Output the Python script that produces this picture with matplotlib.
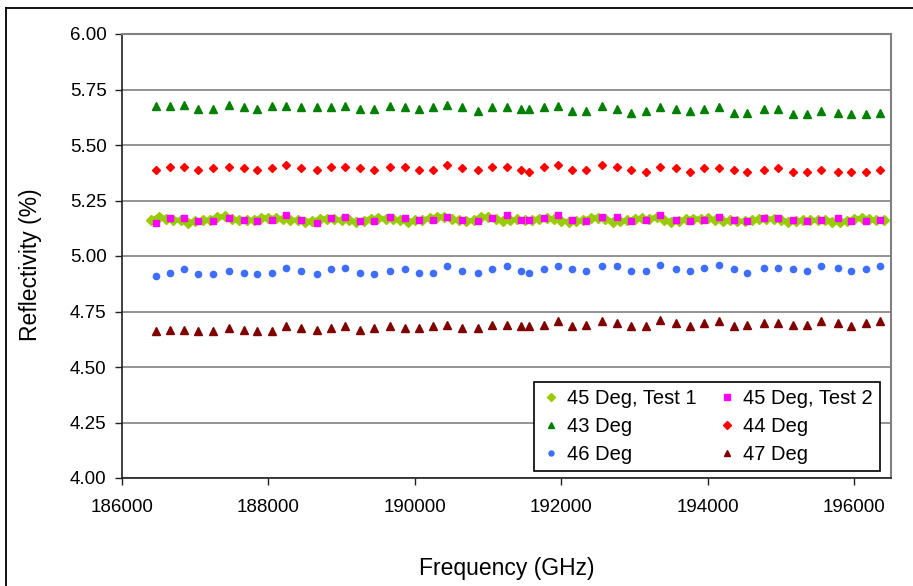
import numpy as np
import matplotlib
matplotlib.use("Agg")
import matplotlib.pyplot as plt
from matplotlib.lines import Line2D
from matplotlib.ticker import FormatStrFormatter

# Frequencies of the discrete channels (GHz)
freq = [186460, 186660, 186850, 187040, 187240, 187460, 187660, 187850, 188050, 188240,
        188440, 188660, 188850, 189050, 189250, 189440, 189660, 189860, 190060, 190250,
        190440, 190640, 190860, 191050, 191250, 191450, 191560, 191760, 191950, 192150,
        192340, 192560, 192760, 192950, 193150, 193350, 193560, 193760, 193950, 194150,
        194350, 194540, 194760, 194960, 195160, 195350, 195550, 195770, 195960, 196160,
        196350]

# Continuous sweep for the first 45 deg test (100 GHz step)
sweep_freq = np.arange(186400, 196401, 100)
test1 = [5.160, 5.177, 5.168, 5.162, 5.160, 5.150, 5.157, 5.160, 5.162, 5.175,
         5.178, 5.165, 5.160, 5.160, 5.162, 5.172, 5.172, 5.170, 5.168, 5.163,
         5.160, 5.155, 5.157, 5.165, 5.168, 5.165,
         5.162, 5.160, 5.154, 5.159, 5.167, 5.172, 5.165, 5.165, 5.160, 5.155,
         5.160, 5.162, 5.170, 5.177, 5.175, 5.166, 5.160, 5.158, 5.160, 5.177,
         5.175, 5.167, 5.158, 5.160, 5.165,
         5.162, 5.162, 5.168, 5.170, 5.165, 5.158, 5.155, 5.156, 5.160, 5.172,
         5.173, 5.165, 5.154, 5.157, 5.160, 5.168, 5.170, 5.167, 5.175, 5.160,
         5.155, 5.158, 5.165, 5.168, 5.166,
         5.170, 5.162, 5.158, 5.160, 5.157, 5.156, 5.162, 5.166, 5.167, 5.166,
         5.164, 5.152, 5.156, 5.162, 5.162, 5.160, 5.164, 5.155, 5.154, 5.158,
         5.168, 5.170, 5.165, 5.160, 5.162]

test2 = [5.150, 5.170, 5.170, 5.156, 5.156, 5.170, 5.162, 5.156, 5.162, 5.185,
         5.162, 5.150, 5.170, 5.177, 5.156, 5.156, 5.177, 5.170, 5.162, 5.162,
         5.177, 5.162, 5.156, 5.170, 5.185, 5.162, 5.162, 5.170, 5.185, 5.162,
         5.156, 5.177, 5.177, 5.156, 5.162, 5.185, 5.162, 5.156, 5.162, 5.177,
         5.162, 5.156, 5.170, 5.170, 5.162, 5.156, 5.162, 5.170, 5.156, 5.156,
         5.162]

deg43 = [5.676, 5.676, 5.682, 5.661, 5.661, 5.682, 5.670, 5.661, 5.676, 5.676,
         5.670, 5.670, 5.670, 5.676, 5.661, 5.661, 5.676, 5.670, 5.661, 5.670,
         5.682, 5.670, 5.653, 5.670, 5.673, 5.661, 5.661, 5.670, 5.676, 5.655,
         5.655, 5.676, 5.661, 5.646, 5.655, 5.670, 5.661, 5.655, 5.661, 5.670,
         5.646, 5.646, 5.661, 5.661, 5.640, 5.640, 5.655, 5.646, 5.640, 5.640,
         5.646]

deg44 = [5.387, 5.402, 5.402, 5.387, 5.395, 5.402, 5.395, 5.387, 5.395, 5.410,
         5.395, 5.387, 5.402, 5.402, 5.395, 5.387, 5.402, 5.402, 5.387, 5.387,
         5.410, 5.395, 5.387, 5.402, 5.399, 5.387, 5.380, 5.402, 5.410, 5.387,
         5.387, 5.410, 5.402, 5.387, 5.380, 5.402, 5.395, 5.380, 5.395, 5.395,
         5.387, 5.380, 5.387, 5.395, 5.380, 5.380, 5.387, 5.380, 5.380, 5.380,
         5.387]

deg46 = [4.910, 4.925, 4.940, 4.917, 4.917, 4.932, 4.925, 4.917, 4.925, 4.946,
         4.932, 4.917, 4.940, 4.946, 4.925, 4.917, 4.932, 4.940, 4.925, 4.925,
         4.953, 4.932, 4.925, 4.940, 4.953, 4.932, 4.925, 4.940, 4.953, 4.940,
         4.932, 4.953, 4.953, 4.932, 4.932, 4.961, 4.940, 4.932, 4.946, 4.961,
         4.940, 4.925, 4.946, 4.946, 4.940, 4.932, 4.953, 4.946, 4.932, 4.940,
         4.953]

deg47 = [4.661, 4.668, 4.668, 4.661, 4.661, 4.676, 4.668, 4.661, 4.661, 4.683,
         4.676, 4.668, 4.676, 4.683, 4.668, 4.676, 4.683, 4.676, 4.676, 4.683,
         4.690, 4.676, 4.676, 4.690, 4.688, 4.683, 4.683, 4.690, 4.705, 4.683,
         4.690, 4.705, 4.698, 4.683, 4.683, 4.713, 4.698, 4.683, 4.698, 4.705,
         4.683, 4.690, 4.698, 4.698, 4.690, 4.690, 4.705, 4.698, 4.683, 4.698,
         4.705]

plt.rcParams["font.family"] = ["Liberation Sans", "DejaVu Sans"]

fig = plt.figure(figsize=(9.13, 5.86), dpi=100)
ax = fig.add_axes([122 / 913, 1 - 478 / 586, 769 / 913, 444 / 586])

# dense sweep: band drawn as thick line plus diamonds
ax.plot(sweep_freq, test1, "-", color="#99CC00", lw=3.8, zorder=2)
h1, = ax.plot(sweep_freq, test1, "D", color="#99CC00", ms=5, ls="none", zorder=2,
              label="45 Deg, Test 1")
h2, = ax.plot(freq, test2, "s", color="#FF00FF", ms=5, ls="none", zorder=3,
              label="45 Deg, Test 2")
h3, = ax.plot(freq, deg43, "^", color="#008000", ms=6, ls="none", zorder=3, label="43 Deg")
h4, = ax.plot(freq, deg44, "D", color="#FF0000", ms=4.5, ls="none", zorder=3, label="44 Deg")
h5, = ax.plot(freq, deg46, "o", color="#3D6EFF", ms=4.5, ls="none", zorder=3, label="46 Deg")
h6, = ax.plot(freq, deg47, "^", color="#800000", ms=6, ls="none", zorder=3, label="47 Deg")

ax.set_xlim(186000, 196500)
ax.set_ylim(4.0, 6.0)
ax.set_xticks([186000, 188000, 190000, 192000, 194000, 196000])
ax.set_yticks(np.arange(4.0, 6.01, 0.25))
ax.yaxis.set_major_formatter(FormatStrFormatter("%.2f"))
ax.grid(axis="y", color="#808080", lw=1.2, zorder=0)

for side in ["top", "right"]:
    ax.spines[side].set_color("#808080")
    ax.spines[side].set_linewidth(1.5)
for side in ["left", "bottom"]:
    ax.spines[side].set_color("#202020")
    ax.spines[side].set_linewidth(1.2)

ax.tick_params(axis="both", direction="out", length=5, width=1, colors="#202020",
               labelsize=13.5, labelcolor="black")
ax.tick_params(axis="y", pad=6)
ax.tick_params(axis="x", pad=10)

ax.set_xlabel("Frequency (GHz)", fontsize=16.5)
ax.set_ylabel("Reflectivity (%)", fontsize=16.5)
ax.xaxis.set_label_coords(0.5, -0.178)
ax.yaxis.set_label_coords(-0.104, 0.48)

# row-wise legend order: two entries per row
handles = [h1, h3, h5, h2, h4, h6]
leg = ax.legend(handles=handles, labels=[h.get_label() for h in handles], ncol=2,
                loc="lower right", bbox_to_anchor=(0.9857, 0.0158),
                borderaxespad=0, fontsize=14.5, frameon=True, fancybox=False,
                edgecolor="black", framealpha=1, markerscale=0.8,
                handlelength=1.0, handletextpad=0.3, columnspacing=1.0,
                labelspacing=0.45, borderpad=0.35)
leg.get_frame().set_linewidth(1.2)

# chart border (left and top edges)
fig.add_artist(Line2D([6 / 913, 6 / 913], [0, 1 - 8 / 586], color="black", lw=1.3))
fig.add_artist(Line2D([6 / 913, 1], [1 - 8 / 586, 1 - 8 / 586], color="black", lw=1.3))

fig.savefig("out.png", dpi=100)
